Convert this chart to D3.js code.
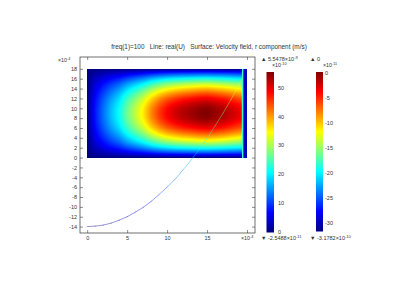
<!DOCTYPE html>
<html lang="en">
<head>
<meta charset="UTF-8" />
<title>Velocity field</title>
<script src="https://cdn.jsdelivr.net/npm/d3@7"></script>
<style>
  body { margin: 0; background: #fff; }
  text { font-family: "Liberation Sans", Arial, sans-serif; fill: #333; }
</style>
</head>
<body>
<script>
const width = 420, height = 290;

// surface: r component of velocity (x1e-10 m/s), read as radial and axial profiles
const surfR = [0, 1, 2, 3, 4, 5, 6, 7, 8, 9, 10, 11, 12, 13, 14, 15, 16, 17, 18, 19, 19.3];
const surfG = [0, 0.14, 0.23, 0.31, 0.38, 0.48, 0.56, 0.64, 0.74, 0.82, 0.88, 0.92, 0.95, 0.97, 0.99, 1.0, 0.98, 0.96, 0.93, 0.9, 0.89];
const surfZ = [0, 1, 2, 3, 4, 5, 6, 7, 8, 9, 10, 11, 12, 13, 14, 15, 16, 17, 18];
const surfH = [0, 0.21, 0.4, 0.56, 0.69, 0.8, 0.89, 0.95, 0.99, 1.0, 0.99, 0.95, 0.89, 0.8, 0.69, 0.56, 0.4, 0.21, 0];
// thin strip at the outer edge
const stripR = [19.3, 19.42, 19.5, 19.6, 20];
const stripV = [null, 24, 24, 4, 2];
const surfMax = 55.478, surfMin = -0.25488;

// line: real(U)
const lineR = [0, 1, 2, 3, 4, 5, 6, 7, 8, 9, 10, 11, 12, 13, 14, 15, 16, 17, 18, 19, 19.4];
const lineZ = [-14.0, -13.9, -13.7, -13.3, -12.7, -12.0, -11.1, -10.1, -8.9, -7.5, -6.0, -4.4, -2.5, -0.5, 1.6, 3.9, 6.4, 9.0, 11.8, 14.8, 16.0];
const lineU = [-31.8, -31.6, -31.2, -30.8, -30.3, -29.8, -29.0, -28.2, -27.3, -26.3, -25.2, -24.0, -22.7, -21.3, -19.9, -18.4, -16.9, -15.4, -13.9, -12.4, -11.8];
const lineMax = 0, lineMin = -31.782;

const xTicks = [0, 5, 10, 15, 20];
const yTicks = [-14, -12, -10, -8, -6, -4, -2, 0, 2, 4, 6, 8, 10, 12, 14, 16, 18];
const cb1Ticks = [0, 10, 20, 30, 40, 50];
const cb2Ticks = [0, -5, -10, -15, -20, -25, -30];

const jet = d3.scaleLinear()
  .domain([0, 0.125, 0.375, 0.625, 0.875, 1])
  .range(["#00007f", "#0000ff", "#00ffff", "#ffff00", "#ff0000", "#7f0000"])
  .clamp(true);

const x = d3.scaleLinear().domain([-0.9, 21]).range([80, 255]);
const y = d3.scaleLinear().domain([-15.3, 20.4]).range([233, 57]);

const svg = d3.select("body").append("svg")
  .attr("width", width).attr("height", height);

// title
svg.append("text")
  .attr("x", 209).attr("y", 49)
  .attr("text-anchor", "middle")
  .attr("font-size", "6.4px")
  .style("white-space", "pre")
  .text("freq(1)=100   Line: real(U)   Surface: Velocity field, r component (m/s)");

// surface image
const gR = d3.scaleLinear().domain(surfR).range(surfG).clamp(true);
const hZ = d3.scaleLinear().domain(surfZ).range(surfH).clamp(true);
const sNorm = d3.scaleLinear().domain([surfMin, surfMax]).range([0, 1]);
function surfVal(r, z) {
  const main = surfMax * gR(r) * hZ(z);
  if (r <= stripR[0]) return main;
  const s = d3.scaleLinear().domain(stripR).range([surfMax * gR(stripR[0]) * hZ(z)].concat(stripV.slice(1)));
  return s(Math.min(r, 20));
}
const xs = Math.round(x(0)), xe = Math.round(x(20));
const ys = Math.round(y(18)), ye = Math.round(y(0));
const cw = xe - xs, ch = ye - ys;
const canvas = document.createElement("canvas");
canvas.width = cw; canvas.height = ch;
const ctx = canvas.getContext("2d");
const img = ctx.createImageData(cw, ch);
for (let j = 0; j < ch; j++) {
  const z = y.invert(ys + j + 0.5);
  for (let i = 0; i < cw; i++) {
    const r = x.invert(xs + i + 0.5);
    const c = d3.rgb(jet(sNorm(surfVal(r, z))));
    const k = (j * cw + i) * 4;
    img.data[k] = c.r; img.data[k + 1] = c.g; img.data[k + 2] = c.b; img.data[k + 3] = 255;
  }
}
ctx.putImageData(img, 0, 0);
svg.append("image")
  .attr("x", xs).attr("y", ys)
  .attr("width", cw).attr("height", ch)
  .attr("href", canvas.toDataURL());

// line coloured by real(U)
const lNorm = d3.scaleLinear().domain([lineMin, lineMax]).range([0, 1]);
const segs = d3.range(lineR.length - 1);
svg.append("g").selectAll("line").data(segs).join("line")
  .attr("x1", i => x(lineR[i])).attr("y1", i => y(lineZ[i]))
  .attr("x2", i => x(lineR[i + 1])).attr("y2", i => y(lineZ[i + 1]))
  .attr("stroke", i => jet(lNorm((lineU[i] + lineU[i + 1]) / 2)))
  .attr("stroke-width", 0.7)
  .attr("stroke-opacity", 0.6)
  .attr("stroke-linecap", "round");

// axes
const fmt = d => String(d);
svg.append("g").attr("transform", "translate(0,233)")
  .call(d3.axisBottom(x).tickValues(xTicks).tickSizeInner(-3).tickSizeOuter(0).tickPadding(3)
    .tickFormat(d => d === 20 ? "" : fmt(d)));
svg.append("g").attr("transform", "translate(0,57)")
  .call(d3.axisTop(x).tickValues(xTicks).tickSizeInner(-3).tickSizeOuter(0).tickFormat(""));
svg.append("g").attr("transform", "translate(80,0)")
  .call(d3.axisLeft(y).tickValues(yTicks).tickSizeInner(-3).tickSizeOuter(0).tickPadding(3).tickFormat(fmt));
svg.append("g").attr("transform", "translate(255,0)")
  .call(d3.axisRight(y).tickValues(yTicks).tickSizeInner(-3).tickSizeOuter(0).tickFormat(""));
svg.selectAll(".tick text").attr("font-size", "5.5px").attr("fill", "#333").attr("font-family", null);
svg.selectAll(".tick line").attr("stroke", "#444").attr("stroke-width", 0.6);
svg.selectAll(".domain").remove();
svg.append("rect").attr("x", 80).attr("y", 57).attr("width", 175).attr("height", 176)
  .attr("fill", "none").attr("stroke", "#333").attr("stroke-width", 0.7);

function sci(px, py, base, exp, size) {
  const t = svg.append("text").attr("x", px).attr("y", py).attr("font-size", size + "px");
  t.append("tspan").text(base);
  t.append("tspan").attr("dy", -2).attr("font-size", (size * 0.72) + "px").text(exp);
  return t;
}
sci(58, 62, "×10", "-4", 5.3);
sci(241, 240, "×10", "-4", 5.3);

// colour bars
const defs = svg.append("defs");
const grad = defs.append("linearGradient").attr("id", "jet")
  .attr("x1", 0).attr("y1", 1).attr("x2", 0).attr("y2", 0);
grad.selectAll("stop").data(jet.domain()).join("stop")
  .attr("offset", d => d).attr("stop-color", d => jet(d));

const cb1 = d3.scaleLinear().domain([surfMin, surfMax]).range([232.5, 72]);
svg.append("rect").attr("x", 266.5).attr("y", cb1(surfMax)).attr("width", 7.5)
  .attr("height", cb1(surfMin) - cb1(surfMax)).attr("fill", "url(#jet)");
svg.append("g").selectAll("text").data(cb1Ticks).join("text")
  .attr("x", 278).attr("y", d => cb1(d) + 2).attr("font-size", "5.5px").text(fmt);
sci(261, 61, "▲ 5.5478×10", "-9", 5.5);
sci(272, 67, "×10", "-10", 5.3);
sci(261, 240, "▼ -2.5488×10", "-11", 5.5);

const cb2 = d3.scaleLinear().domain([lineMin, lineMax]).range([231.5, 72]);
svg.append("rect").attr("x", 316).attr("y", cb2(lineMax)).attr("width", 7)
  .attr("height", cb2(lineMin) - cb2(lineMax)).attr("fill", "url(#jet)");
svg.append("g").selectAll("text").data(cb2Ticks).join("text")
  .attr("x", 325).attr("y", d => cb2(d) + 2.5).attr("font-size", "5.5px").text(fmt);
svg.append("text").attr("x", 310).attr("y", 61).attr("font-size", "5.5px").text("▲ 0");
sci(323, 67, "×10", "-11", 5.3);
sci(310, 240, "▼ -3.1782×10", "-10", 5.5);
</script>
</body>
</html>
